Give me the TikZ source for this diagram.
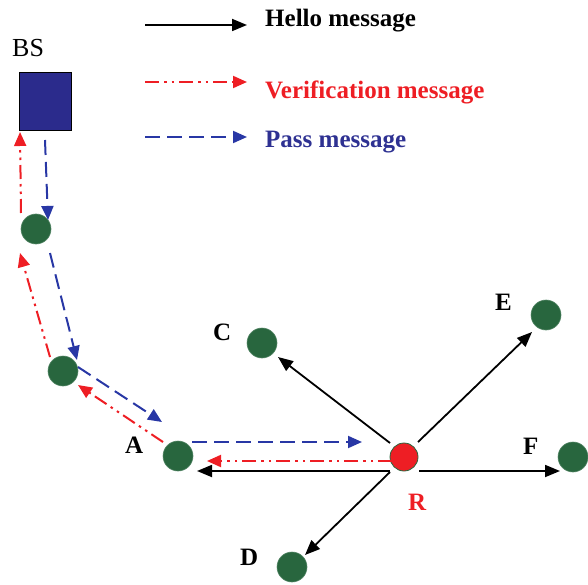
\documentclass[tikz,border=0pt]{standalone}
\usepackage{fontspec}
\setmainfont{Liberation Serif}
\usetikzlibrary{arrows.meta,calc}
\definecolor{ngreen}{RGB}{40,102,62}
\definecolor{bsblue}{RGB}{43,43,140}
\definecolor{pblue}{RGB}{40,55,165}
\definecolor{tblue}{RGB}{46,49,146}
\definecolor{vred}{RGB}{238,30,36}
\begin{document}
\begin{tikzpicture}[x=1pt,y=-1pt,
 gnode/.style={circle,fill=ngreen,draw=ngreen!80!white,line width=0.6pt,minimum size=30pt,inner sep=0pt},
 rnode/.style={circle,fill=vred,draw=ngreen,line width=0.8pt,minimum size=28pt,inner sep=0pt},
 hello/.style={draw=black,line width=1.8pt,-{Triangle[length=15pt,width=12pt]}},
 verif/.style={draw=vred,line width=2pt,dash pattern=on 14pt off 5pt on 2.5pt off 5pt on 2.5pt off 5pt,-{Triangle[length=14pt,width=12pt]}},
 pass/.style={draw=pblue,line width=2pt,dash pattern=on 15pt off 7pt,-{Triangle[length=14pt,width=12pt]}},
 lbl/.style={font=\bfseries\fontsize{25}{25}\selectfont,anchor=base west,inner sep=0pt},
]
\useasboundingbox (0,0) rectangle (588,585);

% legend
\coordinate (h1) at (145,25); \coordinate (h2) at (247,25);
\coordinate (v1) at (145,82); \coordinate (v2) at (247,82);
\coordinate (p1) at (145,137); \coordinate (p2) at (247,137);
\draw[hello] (h1) -- (h2);
\draw[verif] (v1) -- (v2);
\draw[pass] (p1) -- (p2);
\node[lbl] (th) at (265,27) {Hello message};
\node[lbl,text=vred] (tv) at (265,99) {Verification message};
\node[lbl,text=tblue] (tp) at (265,148) {Pass message};

% base station
\node[draw=black,fill=bsblue,line width=1pt,minimum width=52pt,minimum height=58pt,inner sep=0pt] (BS) at (45,102) {};
\node[anchor=base west,inner sep=0pt,font=\fontsize{26}{26}\selectfont] (tBS) at (12,57) {BS};

% nodes
\node[gnode] (N1) at (36,229) {};
\node[gnode] (N2) at (63,371) {};
\node[gnode] (A) at (178,456) {};
\node[gnode] (C) at (262,343) {};
\node[gnode] (E) at (546,315) {};
\node[gnode] (F) at (573,457) {};
\node[gnode] (D) at (292,567) {};
\node[rnode] (R) at (404,457) {};

% labels
\node[lbl] (tA) at (125,453) {A};
\node[lbl] (tC) at (213,340) {C};
\node[lbl] (tE) at (495,310) {E};
\node[lbl] (tF) at (523,454) {F};
\node[lbl] (tD) at (240,565) {D};
\node[lbl,text=vred] (tR) at (408,510) {R};

% hello messages
\draw[hello] ($(R)+(-14,-14)$) -- ($(C)+(16,14)$);
\draw[hello] ($(R)+(14,-15)$) -- ($(E)+(-14,17)$);
\draw[hello] ($(R)+(-14,15)$) -- ($(D)+(13,-12)$);
\draw[hello] ($(R)+(15,14)$) -- ($(F)+(-13,14)$);
\draw[hello] ($(R)+(-14,14)$) -- ($(A)+(19,15)$);

% verification messages
\draw[verif] ($(R)+(-12,4)$) -- ($(A)+(29,5)$);
\draw[verif] ($(A)+(-15,-14)$) -- ($(N2)+(15,14)$);
\draw[verif] ($(N2)+(-13,-14)$) -- ($(N1)+(-16,24)$);
\draw[verif] ($(N1)+(-15,-16)$) -- ($(BS)+(-25,30)$);

% pass messages
\draw[pass] ($(BS)+(0,38)$) -- ($(N1)+(12,-9)$);
\draw[pass] ($(N1)+(14,24)$) -- ($(N2)+(14,-11)$);
\draw[pass] ($(N2)+(15,-4)$) -- ($(A)+(-16,-34)$);
\draw[pass] ($(A)+(14,-14)$) -- ($(R)+(-42,-15)$);
\end{tikzpicture}
\end{document}
